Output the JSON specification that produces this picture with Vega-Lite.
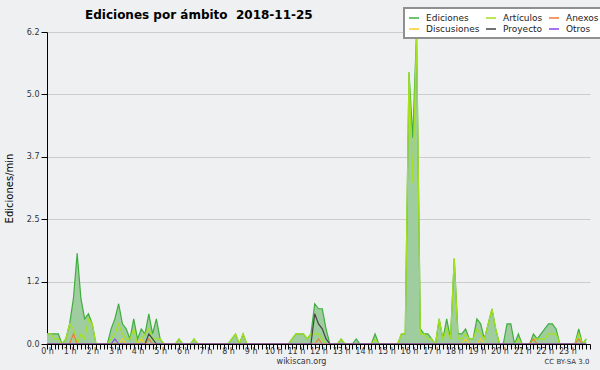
{
 "$schema": "https://vega.github.io/schema/vega-lite/v6.json",
 "width": 543, "height": 312,
 "autosize": "none",
 "padding": {"left": 47, "top": 32, "right": 10, "bottom": 26},
 "background": "#eff0f2",
 "title": {"text": "Ediciones por ámbito \u00a02018-11-25", "anchor": "start", "frame": "group", "dx": 38, "dy": 34, "font": "DejaVu Sans", "fontSize": 12, "fontWeight": "bold", "color": "#000000", "offset": 10, "baseline": "alphabetic"},
 "data": {"values": [
  {"t":0,"E":0.2,"A":0.2,"N":0,"D":0,"P":0,"O":0},
  {"t":1,"E":0.2,"A":0.2,"N":0,"D":0,"P":0,"O":0},
  {"t":2,"E":0.2,"A":0.1,"N":0,"D":0,"P":0,"O":0},
  {"t":3,"E":0.2,"A":0.1,"N":0,"D":0,"P":0,"O":0},
  {"t":4,"E":0,"A":0,"N":0,"D":0,"P":0,"O":0},
  {"t":5,"E":0.1,"A":0.1,"N":0,"D":0,"P":0,"O":0},
  {"t":6,"E":0.4,"A":0.4,"N":0,"D":0,"P":0,"O":0},
  {"t":7,"E":0.9,"A":0.3,"N":0.2,"D":0,"P":0,"O":0},
  {"t":8,"E":1.8,"A":0,"N":0,"D":0,"P":0,"O":0},
  {"t":9,"E":0.9,"A":0.2,"N":0,"D":0,"P":0,"O":0},
  {"t":10,"E":0.5,"A":0.1,"N":0,"D":0,"P":0,"O":0},
  {"t":11,"E":0.6,"A":0.5,"N":0,"D":0,"P":0,"O":0},
  {"t":12,"E":0.4,"A":0.4,"N":0,"D":0,"P":0,"O":0},
  {"t":13,"E":0,"A":0,"N":0,"D":0,"P":0,"O":0},
  {"t":14,"E":0,"A":0,"N":0,"D":0,"P":0,"O":0},
  {"t":15,"E":0,"A":0,"N":0,"D":0,"P":0,"O":0},
  {"t":16,"E":0,"A":0,"N":0,"D":0,"P":0,"O":0},
  {"t":17,"E":0.3,"A":0.1,"N":0,"D":0,"P":0,"O":0},
  {"t":18,"E":0.5,"A":0.2,"N":0,"D":0,"P":0,"O":0.1},
  {"t":19,"E":0.8,"A":0.4,"N":0,"D":0,"P":0,"O":0},
  {"t":20,"E":0.4,"A":0.2,"N":0,"D":0.1,"P":0,"O":0},
  {"t":21,"E":0.3,"A":0.1,"N":0,"D":0,"P":0,"O":0},
  {"t":22,"E":0.1,"A":0.1,"N":0,"D":0,"P":0,"O":0},
  {"t":23,"E":0.5,"A":0.3,"N":0,"D":0,"P":0,"O":0},
  {"t":24,"E":0.1,"A":0,"N":0,"D":0,"P":0,"O":0},
  {"t":25,"E":0.3,"A":0.1,"N":0,"D":0.1,"P":0,"O":0},
  {"t":26,"E":0.2,"A":0.2,"N":0,"D":0,"P":0,"O":0},
  {"t":27,"E":0.6,"A":0.3,"N":0.1,"D":0,"P":0.2,"O":0},
  {"t":28,"E":0.2,"A":0.1,"N":0,"D":0,"P":0.1,"O":0},
  {"t":29,"E":0.5,"A":0.1,"N":0,"D":0,"P":0,"O":0},
  {"t":30,"E":0.1,"A":0.1,"N":0,"D":0,"P":0,"O":0},
  {"t":31,"E":0,"A":0,"N":0,"D":0,"P":0,"O":0},
  {"t":32,"E":0,"A":0,"N":0,"D":0,"P":0,"O":0},
  {"t":33,"E":0,"A":0,"N":0,"D":0,"P":0,"O":0},
  {"t":34,"E":0,"A":0,"N":0,"D":0,"P":0,"O":0},
  {"t":35,"E":0.1,"A":0.1,"N":0,"D":0,"P":0,"O":0},
  {"t":36,"E":0,"A":0,"N":0,"D":0,"P":0,"O":0},
  {"t":37,"E":0,"A":0,"N":0,"D":0,"P":0,"O":0},
  {"t":38,"E":0,"A":0,"N":0,"D":0,"P":0,"O":0},
  {"t":39,"E":0.1,"A":0.1,"N":0,"D":0,"P":0,"O":0},
  {"t":40,"E":0,"A":0,"N":0,"D":0,"P":0,"O":0},
  {"t":41,"E":0,"A":0,"N":0,"D":0,"P":0,"O":0},
  {"t":42,"E":0,"A":0,"N":0,"D":0,"P":0,"O":0},
  {"t":43,"E":0,"A":0,"N":0,"D":0,"P":0,"O":0},
  {"t":44,"E":0,"A":0,"N":0,"D":0,"P":0,"O":0},
  {"t":45,"E":0,"A":0,"N":0,"D":0,"P":0,"O":0},
  {"t":46,"E":0,"A":0,"N":0,"D":0,"P":0,"O":0},
  {"t":47,"E":0,"A":0,"N":0,"D":0,"P":0,"O":0},
  {"t":48,"E":0,"A":0,"N":0,"D":0,"P":0,"O":0},
  {"t":49,"E":0.1,"A":0.1,"N":0,"D":0,"P":0,"O":0},
  {"t":50,"E":0.2,"A":0.2,"N":0,"D":0,"P":0,"O":0},
  {"t":51,"E":0,"A":0,"N":0,"D":0,"P":0,"O":0},
  {"t":52,"E":0.2,"A":0.2,"N":0,"D":0,"P":0,"O":0},
  {"t":53,"E":0,"A":0,"N":0,"D":0,"P":0,"O":0},
  {"t":54,"E":0,"A":0,"N":0,"D":0,"P":0,"O":0},
  {"t":55,"E":0,"A":0,"N":0,"D":0,"P":0,"O":0},
  {"t":56,"E":0,"A":0,"N":0,"D":0,"P":0,"O":0},
  {"t":57,"E":0,"A":0,"N":0,"D":0,"P":0,"O":0},
  {"t":58,"E":0,"A":0,"N":0,"D":0,"P":0,"O":0},
  {"t":59,"E":0,"A":0,"N":0,"D":0,"P":0,"O":0},
  {"t":60,"E":0,"A":0,"N":0,"D":0,"P":0,"O":0},
  {"t":61,"E":0,"A":0,"N":0,"D":0,"P":0,"O":0},
  {"t":62,"E":0,"A":0,"N":0,"D":0,"P":0,"O":0},
  {"t":63,"E":0,"A":0,"N":0,"D":0,"P":0,"O":0},
  {"t":64,"E":0,"A":0,"N":0,"D":0,"P":0,"O":0},
  {"t":65,"E":0.1,"A":0.1,"N":0,"D":0,"P":0,"O":0},
  {"t":66,"E":0.2,"A":0.2,"N":0,"D":0,"P":0,"O":0},
  {"t":67,"E":0.2,"A":0.2,"N":0,"D":0,"P":0,"O":0},
  {"t":68,"E":0.2,"A":0.2,"N":0,"D":0,"P":0,"O":0},
  {"t":69,"E":0.1,"A":0.1,"N":0,"D":0,"P":0,"O":0},
  {"t":70,"E":0.2,"A":0.2,"N":0,"D":0,"P":0,"O":0},
  {"t":71,"E":0.8,"A":0.2,"N":0,"D":0,"P":0.6,"O":0},
  {"t":72,"E":0.7,"A":0.2,"N":0.1,"D":0,"P":0.4,"O":0},
  {"t":73,"E":0.7,"A":0.1,"N":0,"D":0,"P":0.3,"O":0},
  {"t":74,"E":0.3,"A":0,"N":0,"D":0,"P":0.1,"O":0},
  {"t":75,"E":0,"A":0,"N":0,"D":0,"P":0,"O":0},
  {"t":76,"E":0,"A":0,"N":0,"D":0,"P":0,"O":0},
  {"t":77,"E":0,"A":0,"N":0,"D":0,"P":0,"O":0},
  {"t":78,"E":0.1,"A":0.1,"N":0,"D":0,"P":0,"O":0},
  {"t":79,"E":0,"A":0,"N":0,"D":0,"P":0,"O":0},
  {"t":80,"E":0,"A":0,"N":0,"D":0,"P":0,"O":0},
  {"t":81,"E":0,"A":0,"N":0,"D":0,"P":0,"O":0},
  {"t":82,"E":0.1,"A":0,"N":0,"D":0,"P":0,"O":0},
  {"t":83,"E":0,"A":0,"N":0,"D":0,"P":0,"O":0},
  {"t":84,"E":0,"A":0,"N":0,"D":0,"P":0,"O":0},
  {"t":85,"E":0,"A":0,"N":0,"D":0,"P":0,"O":0},
  {"t":86,"E":0,"A":0,"N":0,"D":0,"P":0,"O":0},
  {"t":87,"E":0.2,"A":0.1,"N":0,"D":0,"P":0,"O":0},
  {"t":88,"E":0,"A":0,"N":0,"D":0,"P":0,"O":0},
  {"t":89,"E":0,"A":0,"N":0,"D":0,"P":0,"O":0},
  {"t":90,"E":0,"A":0,"N":0,"D":0,"P":0,"O":0},
  {"t":91,"E":0,"A":0,"N":0,"D":0,"P":0,"O":0},
  {"t":92,"E":0,"A":0,"N":0,"D":0,"P":0,"O":0},
  {"t":93,"E":0,"A":0,"N":0,"D":0,"P":0,"O":0},
  {"t":94,"E":0.2,"A":0.2,"N":0,"D":0,"P":0,"O":0},
  {"t":95,"E":0.2,"A":0.2,"N":0,"D":0,"P":0,"O":0},
  {"t":96,"E":5.4,"A":5.4,"N":0,"D":0,"P":0,"O":0},
  {"t":97,"E":4.1,"A":3.2,"N":0,"D":0,"P":0,"O":0},
  {"t":98,"E":6.2,"A":6.2,"N":0,"D":0,"P":0,"O":0},
  {"t":99,"E":0.3,"A":0.2,"N":0,"D":0,"P":0,"O":0},
  {"t":100,"E":0.2,"A":0.2,"N":0,"D":0,"P":0,"O":0},
  {"t":101,"E":0.2,"A":0.1,"N":0,"D":0,"P":0,"O":0},
  {"t":102,"E":0.1,"A":0.1,"N":0,"D":0,"P":0,"O":0},
  {"t":103,"E":0,"A":0,"N":0,"D":0,"P":0,"O":0},
  {"t":104,"E":0.5,"A":0.5,"N":0,"D":0,"P":0,"O":0},
  {"t":105,"E":0.1,"A":0.1,"N":0,"D":0,"P":0,"O":0},
  {"t":106,"E":0.5,"A":0.3,"N":0,"D":0,"P":0,"O":0},
  {"t":107,"E":0.1,"A":0.1,"N":0,"D":0,"P":0,"O":0},
  {"t":108,"E":1.7,"A":1.7,"N":0,"D":0,"P":0,"O":0},
  {"t":109,"E":0.2,"A":0.1,"N":0,"D":0,"P":0,"O":0},
  {"t":110,"E":0.2,"A":0.1,"N":0,"D":0,"P":0,"O":0},
  {"t":111,"E":0.3,"A":0.2,"N":0,"D":0.1,"P":0,"O":0},
  {"t":112,"E":0.1,"A":0.1,"N":0,"D":0,"P":0,"O":0},
  {"t":113,"E":0.1,"A":0.1,"N":0,"D":0,"P":0,"O":0},
  {"t":114,"E":0.5,"A":0.3,"N":0,"D":0,"P":0,"O":0},
  {"t":115,"E":0.4,"A":0.2,"N":0,"D":0.1,"P":0,"O":0},
  {"t":116,"E":0.1,"A":0.1,"N":0,"D":0,"P":0,"O":0},
  {"t":117,"E":0.4,"A":0.4,"N":0,"D":0,"P":0,"O":0},
  {"t":118,"E":0.7,"A":0.7,"N":0,"D":0,"P":0,"O":0},
  {"t":119,"E":0.3,"A":0.3,"N":0,"D":0,"P":0,"O":0},
  {"t":120,"E":0,"A":0,"N":0,"D":0,"P":0,"O":0},
  {"t":121,"E":0,"A":0,"N":0,"D":0,"P":0,"O":0},
  {"t":122,"E":0.4,"A":0,"N":0,"D":0,"P":0,"O":0},
  {"t":123,"E":0.4,"A":0,"N":0,"D":0,"P":0,"O":0},
  {"t":124,"E":0,"A":0,"N":0,"D":0,"P":0,"O":0},
  {"t":125,"E":0.2,"A":0.1,"N":0,"D":0,"P":0,"O":0},
  {"t":126,"E":0,"A":0,"N":0,"D":0,"P":0,"O":0},
  {"t":127,"E":0,"A":0,"N":0,"D":0,"P":0,"O":0},
  {"t":128,"E":0,"A":0,"N":0,"D":0,"P":0,"O":0},
  {"t":129,"E":0.2,"A":0.1,"N":0.1,"D":0,"P":0,"O":0},
  {"t":130,"E":0.1,"A":0.1,"N":0,"D":0,"P":0,"O":0},
  {"t":131,"E":0.2,"A":0.1,"N":0,"D":0,"P":0,"O":0},
  {"t":132,"E":0.3,"A":0.1,"N":0,"D":0,"P":0,"O":0},
  {"t":133,"E":0.4,"A":0.2,"N":0,"D":0,"P":0,"O":0},
  {"t":134,"E":0.4,"A":0.2,"N":0,"D":0,"P":0,"O":0},
  {"t":135,"E":0.3,"A":0.2,"N":0,"D":0,"P":0,"O":0},
  {"t":136,"E":0,"A":0,"N":0,"D":0,"P":0,"O":0},
  {"t":137,"E":0,"A":0,"N":0,"D":0,"P":0,"O":0},
  {"t":138,"E":0,"A":0,"N":0,"D":0,"P":0,"O":0},
  {"t":139,"E":0,"A":0,"N":0,"D":0,"P":0,"O":0},
  {"t":140,"E":0,"A":0,"N":0,"D":0,"P":0,"O":0},
  {"t":141,"E":0.3,"A":0.2,"N":0.1,"D":0,"P":0,"O":0},
  {"t":142,"E":0,"A":0,"N":0,"D":0,"P":0,"O":0},
  {"t":143,"E":0.1,"A":0.1,"N":0,"D":0,"P":0,"O":0}
 ]},
 "layer": [
  {
   "mark": {"type": "area", "color": "#9fcd9f", "opacity": 1},
   "encoding": {
    "x": {"field": "t", "type": "quantitative",
     "scale": {"domain": [0, 144], "nice": false, "zero": false},
     "axis": {"values": [0,1,2,3,4,5,6,7,8,9,10,11,12,13,14,15,16,17,18,19,20,21,22,23,24,25,26,27,28,29,30,31,32,33,34,35,36,37,38,39,40,41,42,43,44,45,46,47,48,49,50,51,52,53,54,55,56,57,58,59,60,61,62,63,64,65,66,67,68,69,70,71,72,73,74,75,76,77,78,79,80,81,82,83,84,85,86,87,88,89,90,91,92,93,94,95,96,97,98,99,100,101,102,103,104,105,106,107,108,109,110,111,112,113,114,115,116,117,118,119,120,121,122,123,124,125,126,127,128,129,130,131,132,133,134,135,136,137,138,139,140,141,142,143,144],
      "tickCount": 300,
      "labelExpr": "datum.value % 6 == 0 && datum.value < 144 ? (datum.value / 6) + ' h' : ''",
      "labelOverlap": false, "labelFlush": false, "labelFont": "DejaVu Sans", "labelFontSize": 8, "labelColor": "#333333",
      "tickColor": "#000000", "tickSize": 5, "domainColor": "#000000", "labelPadding": -2, "grid": false, "zindex": 1,
      "title": "wikiscan.org", "titleX": 254, "titleY": 17, "titleAlign": "center", "titleBaseline": "middle",
      "titleFont": "DejaVu Sans", "titleFontSize": 8, "titleFontWeight": "normal", "titleColor": "#333333"}},
    "y": {"field": "E", "type": "quantitative",
     "scale": {"domain": [0, 6.2], "nice": false},
     "axis": {"values": [0, 1.24, 2.48, 3.72, 4.96, 6.2], "format": ".1f", "tickCount": 20,
      "labelFont": "DejaVu Sans", "labelFontSize": 8, "labelColor": "#333333",
      "tickColor": "#000000", "tickSize": 6, "labelPadding": 2, "domainColor": "#000000", "gridColor": "#cccccc",
      "title": "Ediciones/min", "titleFont": "DejaVu Sans", "titleFontSize": 10, "titleFontWeight": "normal", "titleColor": "#000000",
      "titleX": -38, "titleY": 156, "titleAlign": "center", "titleBaseline": "middle", "titleAngle": -90}}
   }
  },
  {
   "transform": [{"fold": ["E", "A", "N", "D", "P", "O"], "as": ["serie", "v"]}],
   "mark": {"type": "line", "strokeWidth": 1.2},
   "encoding": {
    "x": {"field": "t", "type": "quantitative"},
    "y": {"field": "v", "type": "quantitative",
     "axis": {"orient": "right", "domain": false, "ticks": false, "labels": false, "grid": false,
      "title": "CC BY-SA 3.0", "titleAngle": 0, "titleX": -1, "titleY": 329, "titleAlign": "right", "titleBaseline": "middle",
      "titleFont": "DejaVu Sans", "titleFontSize": 7, "titleFontWeight": "normal", "titleColor": "#333333"}},
    "color": {"field": "serie", "type": "nominal",
     "sort": ["E", "A", "N", "D", "P", "O"],
     "scale": {"domain": ["E", "A", "N", "D", "P", "O"], "range": ["#3fae3f", "#a5e21b", "#f27a35", "#ffcc22", "#444444", "#8844ee"]},
     "legend": {"orient": "none", "legendX": 357, "legendY": -24, "columns": 3, "direction": "horizontal", "title": null,
      "symbolType": "stroke", "symbolSize": 100, "symbolStrokeWidth": 1.5,
      "labelFont": "DejaVu Sans", "labelFontSize": 9, "labelColor": "#222222", "labelOffset": 6,
      "columnPadding": 3, "rowPadding": 0, "padding": 4,
      "fillColor": "#ffffff", "strokeColor": "#909090",
      "labelExpr": "datum.label == 'E' ? 'Ediciones' : datum.label == 'A' ? 'Artículos' : datum.label == 'N' ? 'Anexos' : datum.label == 'D' ? 'Discusiones' : datum.label == 'P' ? 'Proyecto' : 'Otros'"}}
   }
  }
 ],
 "resolve": {"axis": {"y": "independent"}},
 "config": {"view": {"stroke": null}, "legend": {"strokeWidth": 2}}
}
